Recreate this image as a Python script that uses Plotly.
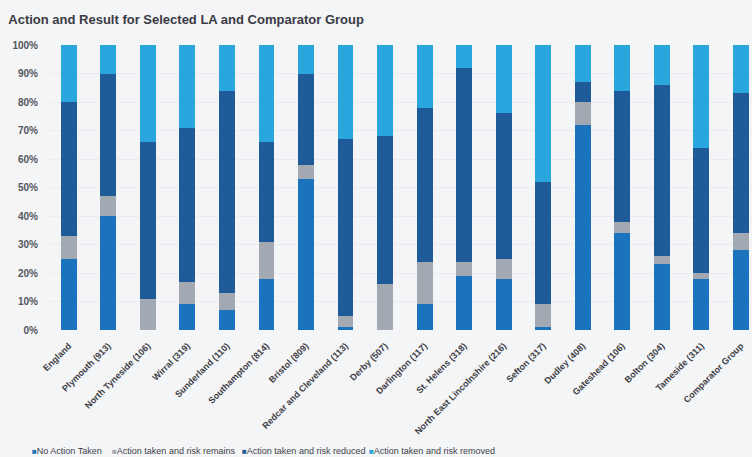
import plotly.graph_objects as go

# Local authorities (with case counts) plus England and the comparator group
areas = [
    "England", "Plymouth (913)", "North Tyneside (106)", "Wirral (319)",
    "Sunderland (110)", "Southampton (814)", "Bristol (809)",
    "Redcar and Cleveland (113)", "Derby (507)", "Darlington (117)",
    "St. Helens (318)", "North East Lincolnshire (216)", "Sefton (317)",
    "Dudley (408)", "Gateshead (106)", "Bolton (304)", "Tameside (311)",
    "Comparator Group",
]

# Share of cases (%) by action and result
no_action      = [25, 40, 0, 9, 7, 18, 53, 1, 0, 9, 19, 18, 1, 72, 34, 23, 18, 28]
risk_remains   = [8, 7, 11, 8, 6, 13, 5, 4, 16, 15, 5, 7, 8, 8, 4, 3, 2, 6]
risk_reduced   = [47, 43, 55, 54, 71, 35, 32, 62, 52, 54, 68, 51, 43, 7, 46, 60, 44, 49]
risk_removed   = [20, 10, 34, 29, 16, 34, 10, 33, 32, 22, 8, 24, 48, 13, 16, 14, 36, 17]

series_names = [
    "No Action Taken", "Action taken and risk remains",
    "Action taken and risk reduced", "Action taken and risk removed",
]
series_values = [no_action, risk_remains, risk_reduced, risk_removed]
series_colors = ["#1b73bd", "#a2a9b3", "#1f5b98", "#2aa6df"]

y_ticks = list(range(0, 101, 10))
y_tick_labels = [f"{v}%" for v in y_ticks]

fig = go.Figure()
for name, vals, col in zip(series_names, series_values, series_colors):
    fig.add_trace(go.Bar(
        x=areas, y=vals, name=name, width=0.4,
        marker=dict(color=col, line=dict(width=0)),
        showlegend=False,
    ))

# Compact legend row beneath the chart (x in paper units of the plot area)
legend_x = [-0.027, 0.087, 0.272, 0.452]
for name, col, lx in zip(series_names, series_colors, legend_x):
    fig.add_annotation(
        xref="paper", yref="paper", x=lx, y=-0.425,
        xanchor="left", yanchor="middle", showarrow=False,
        text=f"<span style='color:{col}; font-size:8px'>■</span>{name}",
        font=dict(family="Arial, Liberation Sans", size=9, color="#3f3f4a"),
    )

bg = "#f4f5f7"
fig.update_layout(
    width=752, height=457,
    margin=dict(l=49, r=0, t=45, b=127),
    barmode="stack",
    paper_bgcolor=bg, plot_bgcolor=bg,
    title=dict(
        text="<b>Action and Result for Selected LA and Comparator Group</b>",
        x=0.011, xanchor="left", y=0.957, yanchor="middle",
        font=dict(family="Arial, Liberation Sans", size=13, color="#3a3a44"),
    ),
    xaxis=dict(
        range=[-0.5, 17.28], tickangle=-45, showgrid=False, zeroline=False,
        showline=False, ticks="", ticklabelstandoff=8,
        tickfont=dict(family="Arial, Liberation Sans", size=9,
                      color="#3d3d45", weight="bold"),
    ),
    yaxis=dict(
        range=[0, 100], tickvals=y_ticks, ticktext=y_tick_labels,
        showgrid=True, gridcolor="#e9ebee", gridwidth=1, zeroline=False,
        showline=False, ticks="", ticklabelstandoff=10,
        tickfont=dict(family="Arial, Liberation Sans", size=10,
                      color="#55555c", weight="bold"),
    ),
)

fig.write_html("out.html")
